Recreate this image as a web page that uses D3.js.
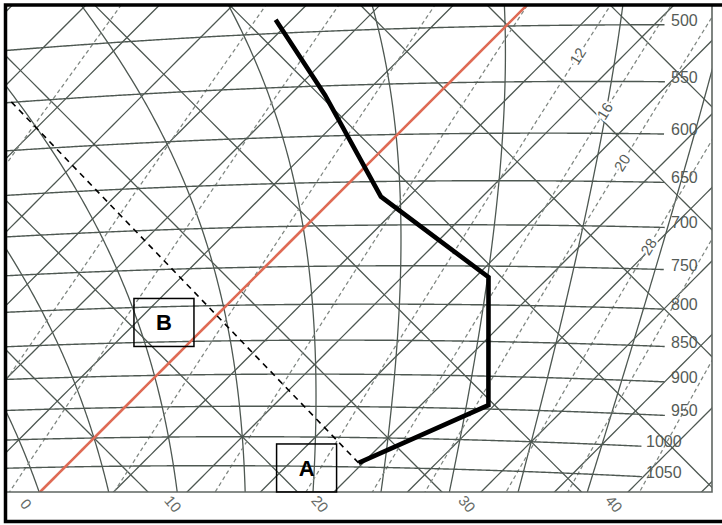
<!DOCTYPE html>
<html>
<head>
<meta charset="utf-8">
<script src="https://cdn.jsdelivr.net/npm/d3@7"></script>
<style>
  html, body { margin: 0; padding: 0; background: #fff; }
  svg { display: block; font-family: Arial, "Liberation Sans", sans-serif; }
</style>
</head>
<body>
<svg id="chart" width="722" height="525"></svg>
<script>
// ---- chart values ----
const isobarLevels = [500, 550, 600, 650, 700, 750, 800, 850, 900, 950, 1000, 1050];
const isothermTemps = [-60, -55, -50, -45, -40, -35, -30, -25, -20, -15, -10, -5, 0, 5, 10, 15, 20, 25, 30, 35, 40, 45, 50, 55];
const tempLabels = [0, 10, 20, 30, 40];
const dryThetas = [-30, -20, -10, 0, 10, 20, 30, 40, 50, 60, 70, 80, 90];
const wetThetas = [-10, -5, 0, 5, 10, 15, 20, 25, 30, 35];
const mixRatios = [0.85, 2, 3, 5, 8, 12, 16, 20, 28, 36, 48];
const mixLabels = [12, 16, 20, 28];
const mixLabelLevels = [527, 578, 630, 723];

// sounding (hPa, degC)
const soundP = [1043, 944, 764, 667, 559, 488];
const soundT = [19.7, 24.6, 15.9, 3.1, -7.6, -16.1];

// dashed parcel line from A up to the left edge (hPa, degC)
const parcelP = [1043, 547];
const parcelT = [19.7, -28.8];

// boxes: label, centre level (hPa), centre temp (degC)
const boxNames = ["A", "B"];
const boxP = [1053, 822];
const boxT = [16.5, -3.1];

// ---- tephigram transform ----
const KAPPA = 0.2857, T0 = 273.15, TREF = 283;
const theta = (tc, p) => (tc + T0) * Math.pow(1000 / p, KAPPA);

// s = T + entropy term runs left->right, d = T - entropy term runs top->bottom
const sx = d3.scaleLinear().domain([0, 80]).range([94, 94 + 7.35 * 80]);
const sy = d3.scaleLinear().domain([0, -60]).range([438, 438 - 7.35 * 60]);

function pt(tc, p) {
  const u = tc;
  const v = TREF * Math.log(theta(tc, p) / T0);
  return [sx(u + v), sy(u - v)];
}

const W = 722, H = 525;
const plot = { left: 5, top: 5, right: 712, bottom: 492 };

const svg = d3.select("#chart");
svg.append("rect").attr("width", W).attr("height", H).attr("fill", "#fff");

svg.append("clipPath").attr("id", "plotclip")
  .append("rect")
  .attr("x", plot.left).attr("y", plot.top)
  .attr("width", plot.right - plot.left).attr("height", plot.bottom - plot.top);

const line = d3.line().curve(d3.curveLinear);
const gridColor = "#4e5852";
const gridWidth = 1.3;

const grid = svg.append("g").attr("clip-path", "url(#plotclip)");

// isotherms
const pressSteps = d3.range(1200, 300, -10);
grid.append("g").selectAll("path")
  .data(isothermTemps)
  .join("path")
  .attr("d", t => line(pressSteps.map(p => pt(t, p))))
  .attr("fill", "none").attr("stroke", gridColor).attr("stroke-width", gridWidth);

// dry adiabats
grid.append("g").selectAll("path")
  .data(dryThetas)
  .join("path")
  .attr("d", th => line(pressSteps.map(p => pt((th + T0) * Math.pow(p / 1000, KAPPA) - T0, p))))
  .attr("fill", "none").attr("stroke", gridColor).attr("stroke-width", gridWidth);

// saturated (pseudo) adiabats
function dTdp(T, p) {
  const es = 6.112 * Math.exp(17.67 * (T - T0) / (T - T0 + 243.5));
  const rs = 0.622 * es / (p - es);
  const Rd = 287.04, Cp = 1005.7, Lv = 2.501e6;
  return (1 / p) * (Rd * T + Lv * rs) / (Cp + Lv * Lv * rs * 0.622 / (Rd * T * T));
}
function moistPath(tw) {
  const step = (pEnd, dp) => {
    let T = tw + T0, p = 1000;
    const pts = [];
    while ((dp < 0 && p > pEnd) || (dp > 0 && p < pEnd)) {
      const k1 = dTdp(T, p);
      const k2 = dTdp(T + k1 * dp / 2, p + dp / 2);
      const k3 = dTdp(T + k2 * dp / 2, p + dp / 2);
      const k4 = dTdp(T + k3 * dp, p + dp);
      T += dp * (k1 + 2 * k2 + 2 * k3 + k4) / 6;
      p += dp;
      pts.push(pt(T - T0, p));
    }
    return pts;
  };
  const up = step(380, -4);
  const down = step(1150, 4);
  return down.reverse().concat([pt(tw, 1000)], up);
}
grid.append("g").selectAll("path")
  .data(wetThetas)
  .join("path")
  .attr("d", tw => line(moistPath(tw)))
  .attr("fill", "none").attr("stroke", gridColor).attr("stroke-width", gridWidth);

// saturation mixing ratio lines
function mixTemp(w, p) {
  const e = w * p / (622 + w);
  const a = Math.log(e / 6.112);
  return 243.5 * a / (17.67 - a);
}
grid.append("g").selectAll("path")
  .data(mixRatios)
  .join("path")
  .attr("d", w => line(pressSteps.map(p => pt(mixTemp(w, p), p))))
  .attr("fill", "none").attr("stroke", "#7f8681").attr("stroke-width", 1.25)
  .attr("stroke-dasharray", "4,3");

// isobars (stop just before their labels)
const tSteps = d3.range(-90, 70, 0.1);
isobarLevels.forEach(p => {
  const endX = p >= 1000 ? 642 : 665;
  const pts = tSteps.map(t => pt(t, p)).filter(d => d[0] <= endX);
  grid.append("path")
    .attr("d", line(pts))
    .attr("fill", "none").attr("stroke", gridColor).attr("stroke-width", 1.4);
  const last = pts[pts.length - 1];
  svg.append("text")
    .attr("x", p >= 1000 ? 646 : 671).attr("y", last[1] + 1)
    .attr("font-size", 16).attr("fill", "#555b57")
    .text(p);
});

// 0 degC isotherm in red
grid.append("path")
  .attr("d", line(pressSteps.map(p => pt(0, p))))
  .attr("fill", "none").attr("stroke", "#df6b55").attr("stroke-width", 2.6);

// mixing ratio labels
mixLabels.forEach((w, i) => {
  const p = mixLabelLevels[i];
  const a = pt(mixTemp(w, p + 10), p + 10), b = pt(mixTemp(w, p - 10), p - 10);
  const c = pt(mixTemp(w, p), p);
  const ang = Math.atan2(b[1] - a[1], b[0] - a[0]) * 180 / Math.PI;
  svg.append("text")
    .attr("transform", `translate(${c[0]},${c[1]}) rotate(${ang})`)
    .attr("text-anchor", "middle").attr("dy", "0.35em")
    .attr("font-size", 15).attr("fill", "#555b57")
    .attr("stroke", "#fff").attr("stroke-width", 4).attr("paint-order", "stroke")
    .text(w);
});

// chart border (right + bottom, grey)
svg.append("path")
  .attr("d", `M${plot.right},${plot.top}V${plot.bottom}H${plot.left}`)
  .attr("fill", "none").attr("stroke", "#5f6662").attr("stroke-width", 1.6);

// temperature labels along the bottom, on the isotherms' extension
const dBottom = sy.invert(plot.bottom);
tempLabels.forEach(t => {
  const x = sx(2 * t - dBottom);
  svg.append("text")
    .attr("transform", `translate(${x - 14},${plot.bottom + 12}) rotate(50)`)
    .attr("text-anchor", "middle").attr("dy", "0.35em")
    .attr("font-size", 15).attr("fill", "#666b68")
    .text(t);
});

// parcel line from A
svg.append("g").attr("clip-path", "url(#plotclip)")
  .append("path")
  .attr("d", line(parcelP.map((p, i) => pt(parcelT[i], p))))
  .attr("fill", "none").attr("stroke", "#000").attr("stroke-width", 1.6)
  .attr("stroke-dasharray", "6,5");

// sounding
svg.append("path")
  .attr("d", line(soundP.map((p, i) => pt(soundT[i], p))))
  .attr("fill", "none").attr("stroke", "#000").attr("stroke-width", 4.6)
  .attr("stroke-linejoin", "miter");

// boxes A and B
boxNames.forEach((name, i) => {
  const c = pt(boxT[i], boxP[i]);
  svg.append("rect")
    .attr("x", c[0] - 30).attr("y", c[1] - 24)
    .attr("width", 60).attr("height", 48)
    .attr("fill", "none").attr("stroke", "#000").attr("stroke-width", 1.5);
  svg.append("text")
    .attr("x", c[0]).attr("y", c[1]).attr("dy", "0.36em")
    .attr("text-anchor", "middle")
    .attr("font-size", 22).attr("font-weight", "bold").attr("fill", "#000")
    .text(name);
});

// outer black frame
svg.append("path")
  .attr("d", `M722,5H5.5V521.5H722`)
  .attr("fill", "none").attr("stroke", "#000").attr("stroke-width", 3.5);
</script>
</body>
</html>
